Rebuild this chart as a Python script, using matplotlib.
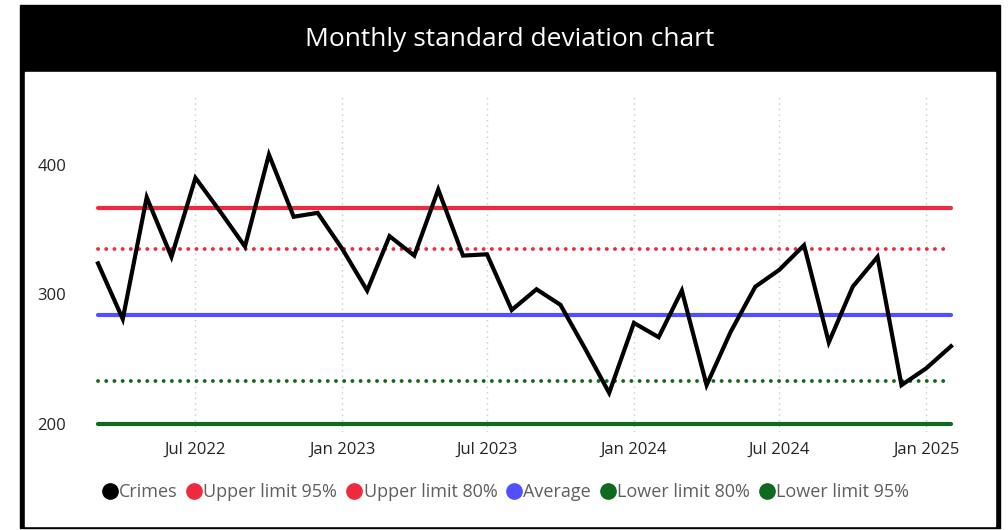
import matplotlib
matplotlib.use("Agg")
import matplotlib.pyplot as plt
from matplotlib.lines import Line2D
from matplotlib.patches import Rectangle
import pandas as pd

plt.rcParams["font.family"] = ["Open Sans", "DejaVu Sans"]

# monthly crimes, Mar 2022 .. Feb 2025
months = pd.date_range("2022-03-01", periods=36, freq="MS")
crimes = [
    324, 281, 375, 329, 390, 364, 337, 408, 360, 363,
    335, 303, 345, 330, 381, 330, 331, 288, 304, 292, 258, 224,
    278, 267, 303, 230, 271, 306, 319, 338, 263, 306, 329, 230,
    243, 260,
]
upper_95 = 367
upper_80 = 335
average = 284
lower_80 = 233
lower_95 = 200

tick_dates = pd.date_range("2022-07-01", "2025-01-01", freq="6MS")
tick_labels = [d.strftime("%b %Y") for d in tick_dates]
y_ticks = [200, 300, 400]

RED = "#EE2A3C"
BLUE = "#5050FF"
GREEN = "#0E6A1F"

W, H = 1008, 530
fig = plt.figure(figsize=(W / 100, H / 100), dpi=100)
fig.patch.set_facecolor("white")


def box(x0, y0, x1, y1, color):
    # pixel coords, origin top-left
    fig.patches.append(Rectangle((x0 / W, 1 - y1 / H), (x1 - x0) / W, (y1 - y0) / H,
                                 transform=fig.transFigure, color=color, zorder=-10))


box(20, 5, 1000, 528, "black")
box(25, 72, 995, 526, "white")

fig.text(510 / W, 1 - 39 / H, "Monthly standard deviation chart", color="white",
         fontsize=19, ha="center", va="center")

ax = fig.add_axes([98 / W, 1 - 432 / H, (951 - 98) / W, (432 - 95) / H])
ax.set_facecolor("none")

x0, x1 = months[0], months[-1]
ax.plot([x0, x1], [upper_95] * 2, color=RED, lw=3, solid_capstyle="round", clip_on=False)
ax.plot([x0, x1], [upper_80] * 2, color=RED, lw=2.8, dashes=(0.01, 2.1),
        dash_capstyle="round", clip_on=False)
ax.plot([x0, x1], [average] * 2, color=BLUE, lw=3, solid_capstyle="round", clip_on=False)
ax.plot([x0, x1], [lower_80] * 2, color=GREEN, lw=2.8, dashes=(0.01, 2.1),
        dash_capstyle="round", clip_on=False)
ax.plot([x0, x1], [lower_95] * 2, color=GREEN, lw=3, solid_capstyle="round", clip_on=False)
ax.plot(months, crimes, color="black", lw=3, solid_joinstyle="miter", clip_on=False, zorder=5)

ax.set_xlim(x0, x1)
ax.set_ylim(193.8, 454)
ax.set_xticks(tick_dates)
ax.set_xticklabels(tick_labels)
ax.set_yticks(y_ticks)
ax.tick_params(length=0, labelsize=12, labelcolor="#252423")
ax.tick_params(axis="y", pad=23)
ax.tick_params(axis="x", pad=7)
ax.grid(axis="x", color="#C8C8C8", linestyle=(0, (1, 3)), lw=1)
for s in ax.spines.values():
    s.set_visible(False)

handles = [
    Line2D([], [], ls="none", marker="o", ms=11, color=c)
    for c in ["black", RED, RED, BLUE, GREEN, GREEN]
]
names = ["Crimes", "Upper limit 95%", "Upper limit 80%", "Average",
         "Lower limit 80%", "Lower limit 95%"]
leg = fig.legend(handles, names, loc="center", bbox_to_anchor=(505 / W, 1 - 492 / H),
                 ncol=6, frameon=False, fontsize=13, handletextpad=0.0,
                 columnspacing=0.45, handlelength=1.0, labelcolor="#605E5C")

fig.savefig("out.png", dpi=100)
